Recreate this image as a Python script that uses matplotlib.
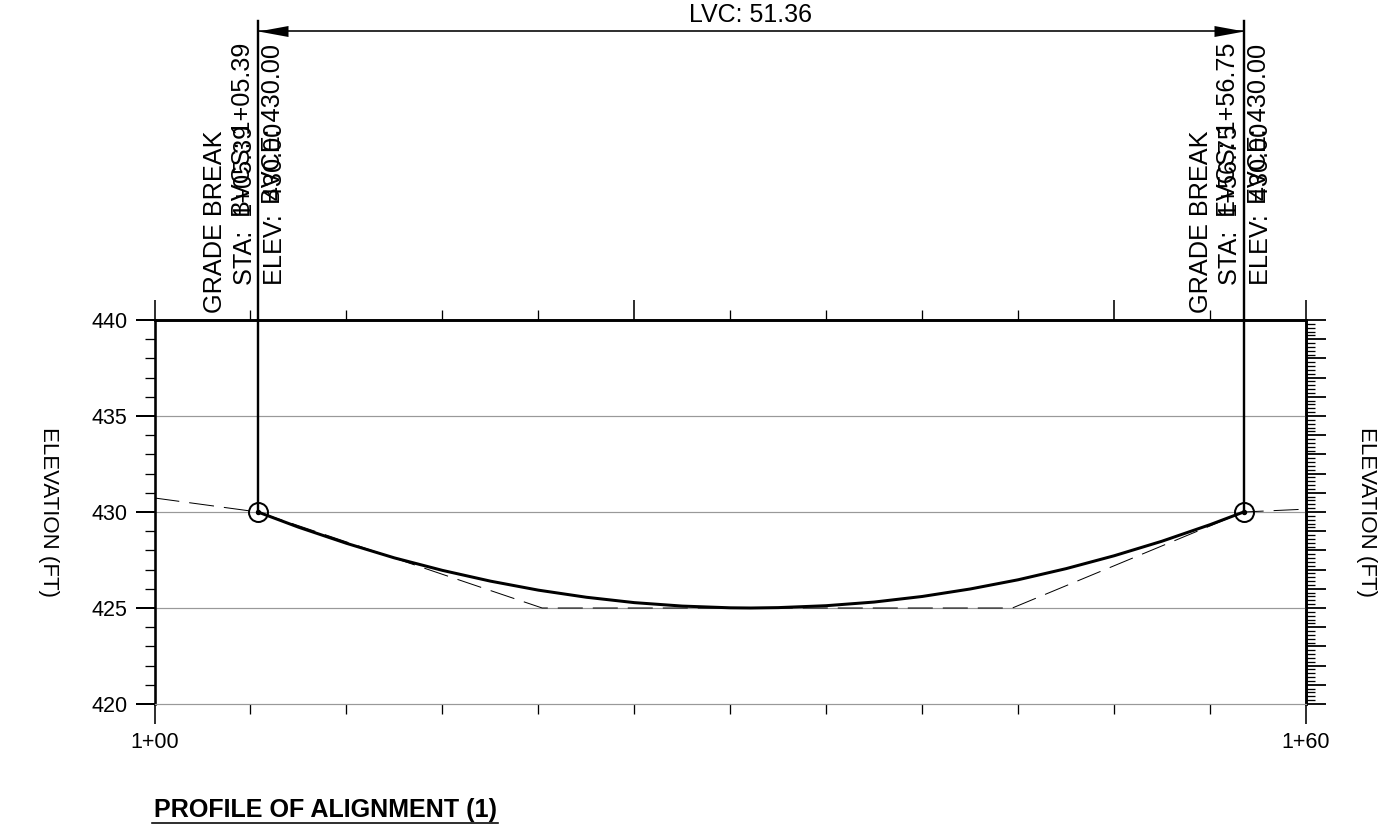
import numpy as np
from matplotlib import pyplot as plt
from matplotlib.path import Path
from matplotlib.ticker import FixedLocator, MultipleLocator, NullFormatter

plt.rcParams['font.family'] = ['Liberation Sans', 'DejaVu Sans']

# estaciones en pies (1+00 = 100)
curva_x = [105.39, 107.5, 110, 112.5, 115, 117.5, 120, 122.5, 125, 127.5, 130, 131.07,
           132.5, 135, 137.5, 140, 142.5, 145, 147.5, 150, 152.5, 155, 156.75]
curva_y = [430.00, 429.21, 428.37, 427.61, 426.96, 426.40, 425.93, 425.56, 425.28, 425.10, 425.01, 425.00,
           425.02, 425.12, 425.31, 425.60, 425.99, 426.47, 427.05, 427.72, 428.48, 429.34, 430.00]
tangente_x = [100, 105.39, 120.2, 144.7, 156.75, 160]
tangente_y = [430.73, 430.00, 425.00, 425.00, 430.00, 430.15]
grade_x = [105.39, 156.75]
grade_y = [430.00, 430.00]
lvc_y = 455.05
x_labels = ['1+00', '1+60']
y_mayores = [420, 425, 430, 435, 440]

W, H = 1382, 831
PX = 0.72  # un pixel en puntos a dpi 100


def texto(x, y, s, **kw):
    fig.text(x / W, 1 - y / H, s, **kw)


fig = plt.figure(figsize=(W / 100, H / 100), dpi=100)
ax = fig.add_axes([154.5 / W, 1 - 704 / H, (1306 - 154.5) / W, (704 - 320) / H])
ax.set_xlim(100, 160)
ax.set_ylim(420, 440)

for lado in ['left', 'right', 'top']:
    ax.spines[lado].set_linewidth(2.6 * PX)
ax.spines['bottom'].set_linewidth(1.2 * PX)
ax.spines['bottom'].set_color('#999999')

for y in y_mayores[1:4]:
    ax.axhline(y, color='#999999', lw=1.2 * PX, zorder=1)

# eje inferior e izquierdo
ax.xaxis.set_major_locator(FixedLocator([100, 160]))
ax.set_xticklabels(x_labels)
ax.xaxis.set_minor_locator(MultipleLocator(5))
ax.tick_params(axis='x', which='major', length=20 * PX, width=1.6 * PX, labelsize=15.5, pad=6)
ax.tick_params(axis='x', which='minor', length=10 * PX, width=1.3 * PX)
ax.yaxis.set_major_locator(FixedLocator(y_mayores))
ax.yaxis.set_minor_locator(MultipleLocator(1))
ax.tick_params(axis='y', which='major', length=19 * PX, width=2 * PX, labelsize=15.5, pad=6)
ax.tick_params(axis='y', which='minor', length=10 * PX, width=1.3 * PX)

# eje superior
arriba = ax.secondary_xaxis('top')
arriba.xaxis.set_major_locator(FixedLocator([100, 125, 150, 160]))
arriba.xaxis.set_minor_locator(MultipleLocator(5))
arriba.xaxis.set_major_formatter(NullFormatter())
arriba.tick_params(axis='x', which='major', length=20 * PX, width=1.6 * PX)
arriba.tick_params(axis='x', which='minor', length=10 * PX, width=1.3 * PX)
arriba.spines['top'].set_linewidth(2.6 * PX)

# eje derecho
derecha = ax.secondary_yaxis('right')
derecha.yaxis.set_major_locator(MultipleLocator(1))
derecha.yaxis.set_minor_locator(MultipleLocator(0.2))
derecha.yaxis.set_major_formatter(NullFormatter())
derecha.tick_params(axis='y', which='major', length=20 * PX, width=1.8 * PX)
derecha.tick_params(axis='y', which='minor', length=9 * PX, width=1.3 * PX)
derecha.spines['right'].set_linewidth(2.6 * PX)

ax.plot(tangente_x, tangente_y, color='black', lw=PX, ls=(0, (25, 10)), zorder=3)
ax.plot(curva_x, curva_y, color='black', lw=3 * PX, zorder=4)
ax.plot(grade_x, grade_y, ls='none', marker='o', ms=19 * PX, mfc='none', mec='black', mew=2 * PX, zorder=5)
ax.plot(grade_x, grade_y, ls='none', marker='o', ms=4 * PX, color='black', zorder=5)

# lineas verticales y cota LVC
for x, y in zip(grade_x, grade_y):
    ax.plot([x, x], [y, lvc_y + 0.52], color='black', lw=2.4 * PX, clip_on=False, zorder=5)
ax.plot(grade_x, [lvc_y, lvc_y], color='black', lw=1.6 * PX, clip_on=False)
# puntas de flecha: la punta queda justo sobre la vertical
punta_der = Path([(0, 0), (-30, 5.5), (-30, -5.5), (0, 0)])
punta_izq = Path([(0, 0), (30, 5.5), (30, -5.5), (0, 0)])
ax.plot(grade_x[0], lvc_y, marker=punta_izq, ms=60 * PX, color='black', mew=0, clip_on=False)
ax.plot(grade_x[1], lvc_y, marker=punta_der, ms=60 * PX, color='black', mew=0, clip_on=False)

texto(750.5, 21.5, 'LVC: 51.36', fontsize=18, ha='center', va='baseline')

vert = dict(rotation=90, fontsize=18.2, ha='center', va='bottom')
texto(215, 313, 'GRADE BREAK', **vert)
texto(245, 285, 'STA:  1+05.39', **vert)
texto(243, 217, 'BVCS: 1+05.39', **vert)
texto(275, 285, 'ELEV:  430.00', **vert)
texto(273, 204, 'BVCE: 430.00', **vert)
texto(1201.5, 313, 'GRADE BREAK', **vert)
texto(1230, 285, 'STA:  1+56.75', **vert)
texto(1228, 217, 'EVCS: 1+56.75', **vert)
texto(1261, 285, 'ELEV:  430.00', **vert)
texto(1259, 204, 'EVCE: 430.00', **vert)

texto(48, 512, 'ELEVATION (FT)', rotation=270, fontsize=16, ha='center', va='center')
texto(1366, 512, 'ELEVATION (FT)', rotation=270, fontsize=16, ha='center', va='center')

texto(154, 809.5, 'PROFILE OF ALIGNMENT (1)', fontsize=18.1, fontweight='bold', ha='left', va='center')
fig.add_artist(plt.Line2D([152 / W, 498 / W], [1 - 822.5 / H, 1 - 822.5 / H], color='black', lw=1.6 * PX))

fig.savefig('out.png', dpi=100)
